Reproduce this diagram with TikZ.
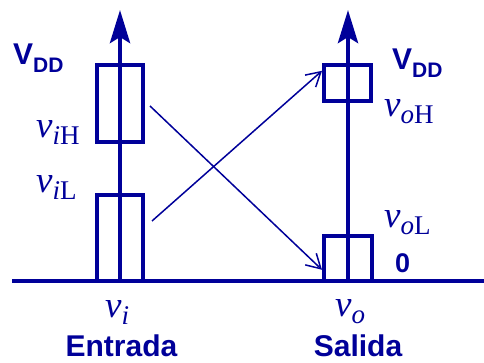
\documentclass[tikz,border=0pt]{standalone}
\usepackage{fontspec}
\setmainfont{Liberation Serif}
\setsansfont{Liberation Sans}
\usetikzlibrary{arrows.meta}
\definecolor{navy}{RGB}{0,0,153}

\newcommand*{\lvl}[2]{\fontsize{37}{37}\selectfont\textit{v}\raisebox{-7pt}{\fontsize{27}{27}\selectfont\textit{#1}#2}}
\newcommand*{\vdd}{V\raisebox{-8pt}{\fontsize{21}{21}\selectfont DD}}

\begin{document}
\begin{tikzpicture}
[
	x=1pt, y=-1pt,
	every node/.style={navy, inner sep=0pt},
	axis/.style={navy, line width=4.5pt},
	band/.style={draw=navy, line width=4pt, inner sep=0pt},
	swing/.style={navy, line width=1.5pt, -{Straight Barb[length=14pt,width=16pt]}},
	tag/.style={font=\sffamily\bfseries\fontsize{30}{30}\selectfont}
]
	\useasboundingbox (0,0) rectangle (484,363);

	% voltage bands
	\node[band, minimum width=45.5, minimum height=77.5] (iH) at (119.75,103.75) {};
	\node[band, minimum width=45.5, minimum height=86] (iL) at (119.75,238) {};
	\node[band, minimum width=47, minimum height=36.5] (oH) at (347.5,83.25) {};
	\node[band, minimum width=48, minimum height=44.5] (oL) at (348,258.75) {};

	% axes
	\coordinate (gl) at (12,281);
	\coordinate (gr) at (484,281);
	\coordinate (in0) at (120,281);
	\coordinate (inT) at (120,10);
	\coordinate (out0) at (348,281);
	\coordinate (outT) at (348,10);
	\draw[axis] (gl) -- (gr);
	\draw[axis, -{Stealth[length=33pt,width=20pt,inset=6pt]}] (in0) -- (inT);
	\draw[axis, -{Stealth[length=33pt,width=20pt,inset=6pt]}] (out0) -- (outT);

	% labels
	\node[tag, anchor=base west] (vddI) at (13,65) {\vdd};
	\node[tag, anchor=base west] (vddO) at (392,70) {\vdd};
	\node[anchor=base west] (lblIH) at (36,138) {\lvl{i}{H}};
	\node[anchor=base west] (lblIL) at (36,193) {\lvl{i}{L}};
	\node[anchor=base west] (lblOH) at (384,117) {\lvl{o}{H}};
	\node[anchor=base west] (lblOL) at (384,228) {\lvl{o}{L}};
	\node[tag, font=\sffamily\bfseries\fontsize{27}{27}\selectfont, anchor=base west] (zero) at (395,272) {0};
	\node[anchor=base west] (vi) at (105,317) {\lvl{i}{}};
	\node[anchor=base west] (vo) at (335,316) {\lvl{o}{}};
	\node[tag, anchor=base] (entrada) at (121.5,356) {Entrada};
	\node[tag, anchor=base] (salida) at (358,356) {Salida};

	% transfer arrows
	\coordinate (hFrom) at (150,106);
	\coordinate (lFrom) at (152,221);
	\draw[swing] (hFrom) -- (oL.203);
	\draw[swing] (lFrom) -- (oH.154);

\end{tikzpicture}
\end{document}
